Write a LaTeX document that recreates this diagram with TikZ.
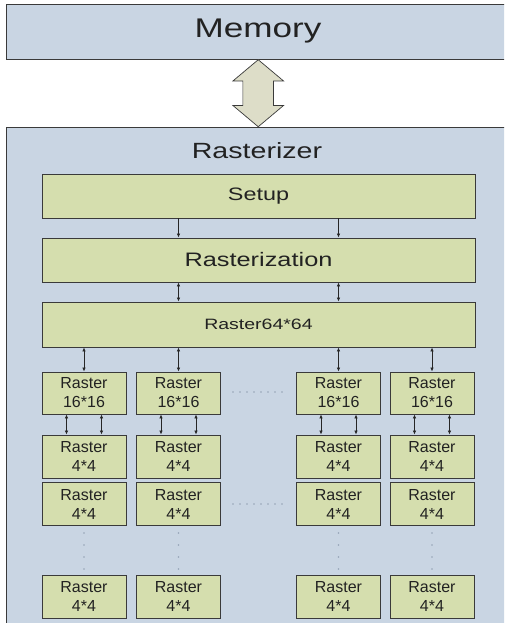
\documentclass[tikz,border=0pt]{standalone}
\usepackage{fontspec}
\setmainfont{Liberation Sans}
\newfontfamily\widefont[FakeStretch=1.3]{Liberation Sans}
\usepackage{tikz}
\usetikzlibrary{
    positioning,
    arrows.meta,
    shapes.arrows,
    calc
}
\definecolor{PanelBlue}{HTML}{C9D5E3}
\definecolor{BlockGreen}{HTML}{D5DEAE}
\definecolor{LinkKhaki}{HTML}{DDDDC8}
\definecolor{BoxBorder}{HTML}{3A3A3A}
\definecolor{TextDark}{HTML}{222222}
\definecolor{DotGray}{HTML}{95A4B6}
\tikzset{
    panel/.style={
        rectangle,
        draw=BoxBorder,
        fill=PanelBlue,
        line width=0.9pt,
        inner sep=0pt,
        text=TextDark,
    },
    block/.style={
        rectangle,
        draw=BoxBorder,
        fill=BlockGreen,
        line width=0.9pt,
        inner sep=0pt,
        text=TextDark,
    },
    stage/.style={
        block,
        minimum width=433pt,
        minimum height=44pt,
    },
    cell/.style={
        block,
        minimum width=84pt,
        minimum height=43pt,
        align=center,
        font=\fontsize{16}{19}\selectfont,
    },
    edge/.style={
        ->,
        >={Latex[length=4pt,width=3.5pt]},
        line width=0.75pt,
        draw=black!85,
    },
    dedge/.style={
        edge,
        <->,
    },
}

\begin{document}
\begin{tikzpicture}[x=1pt,y=-1pt]
    \useasboundingbox (0,0) rectangle (504,623);
    \clip (0,0) rectangle (504,623);

    \tikzset{
        link/.style={double arrow,draw=BoxBorder,fill=LinkKhaki,line width=0.7pt,rotate=90,
            minimum height=67pt,inner xsep=0pt,inner ysep=15pt,double arrow head extend=10pt,
            double arrow tip angle=100},
        dot/.style={fill=DotGray,draw=none},
    }

    % memory and rasterizer panels
    \node[panel,minimum width=504pt,minimum height=55pt,
        font=\widefont\fontsize{27}{30}\selectfont] (memory) at (258,31.5) {Memory};
    \node[panel,minimum width=504pt,minimum height=510pt,anchor=north west] (rasterizer) at (6,127) {};
    \node[text=TextDark,font=\widefont\fontsize{22}{26}\selectfont] (rastitle) at (257,151) {Rasterizer};

    \node[link] (memlink) at ($(memory.south)!0.5!(rasterizer.north)$) {};

    % pipeline stages
    \node[stage,font=\widefont\fontsize{18}{22}\selectfont] (setup) at (258.5,196) {Setup};
    \node[stage,font=\widefont\fontsize{19.5}{23}\selectfont] (rasterization) at (258.5,260) {Rasterization};
    \node[stage,minimum height=45pt,font=\widefont\fontsize{15}{18}\selectfont] (raster64) at (258.5,324.5) {Raster64*64};

    \draw[edge] ([xshift=-80pt]setup.south) -- ([xshift=-80pt]rasterization.north);
    \draw[edge] ([xshift=80pt]setup.south) -- ([xshift=80pt]rasterization.north);
    \draw[dedge] ([xshift=-80pt]rasterization.south) -- ([xshift=-80pt]raster64.north);
    \draw[dedge] ([xshift=80pt]rasterization.south) -- ([xshift=80pt]raster64.north);

    % raster columns
    \foreach \c/\x in {a/84,b/178.5,c/338.5,d/432} {
        \node[cell,minimum height=42pt] (r16\c) at (\x,393) {Raster\\16*16};
        \node[cell] (r4\c1) at (\x,456.5) {Raster\\4*4};
        \node[cell] (r4\c2) at (\x,504) {Raster\\4*4};
        \node[cell] (r4\c3) at (\x,596.5) {Raster\\4*4};

        \draw[dedge] (raster64.south -| r16\c) -- (r16\c.north);
        \draw[dedge] ([xshift=-17.5pt]r16\c.south) -- ([xshift=-17.5pt]r4\c1.north);
        \draw[dedge] ([xshift=17.5pt]r16\c.south) -- ([xshift=17.5pt]r4\c1.north);

        \foreach \y in {533,545,557,569}
            \fill[dot] (\x,\y) circle (0.9pt);
    }

    % dotted gaps between the columns
    \foreach \xx in {233,240,...,282} {
        \fill[dot] (\xx,392) circle (0.8pt);
        \fill[dot] (\xx,504) circle (0.8pt);
    }
\end{tikzpicture}
\end{document}
